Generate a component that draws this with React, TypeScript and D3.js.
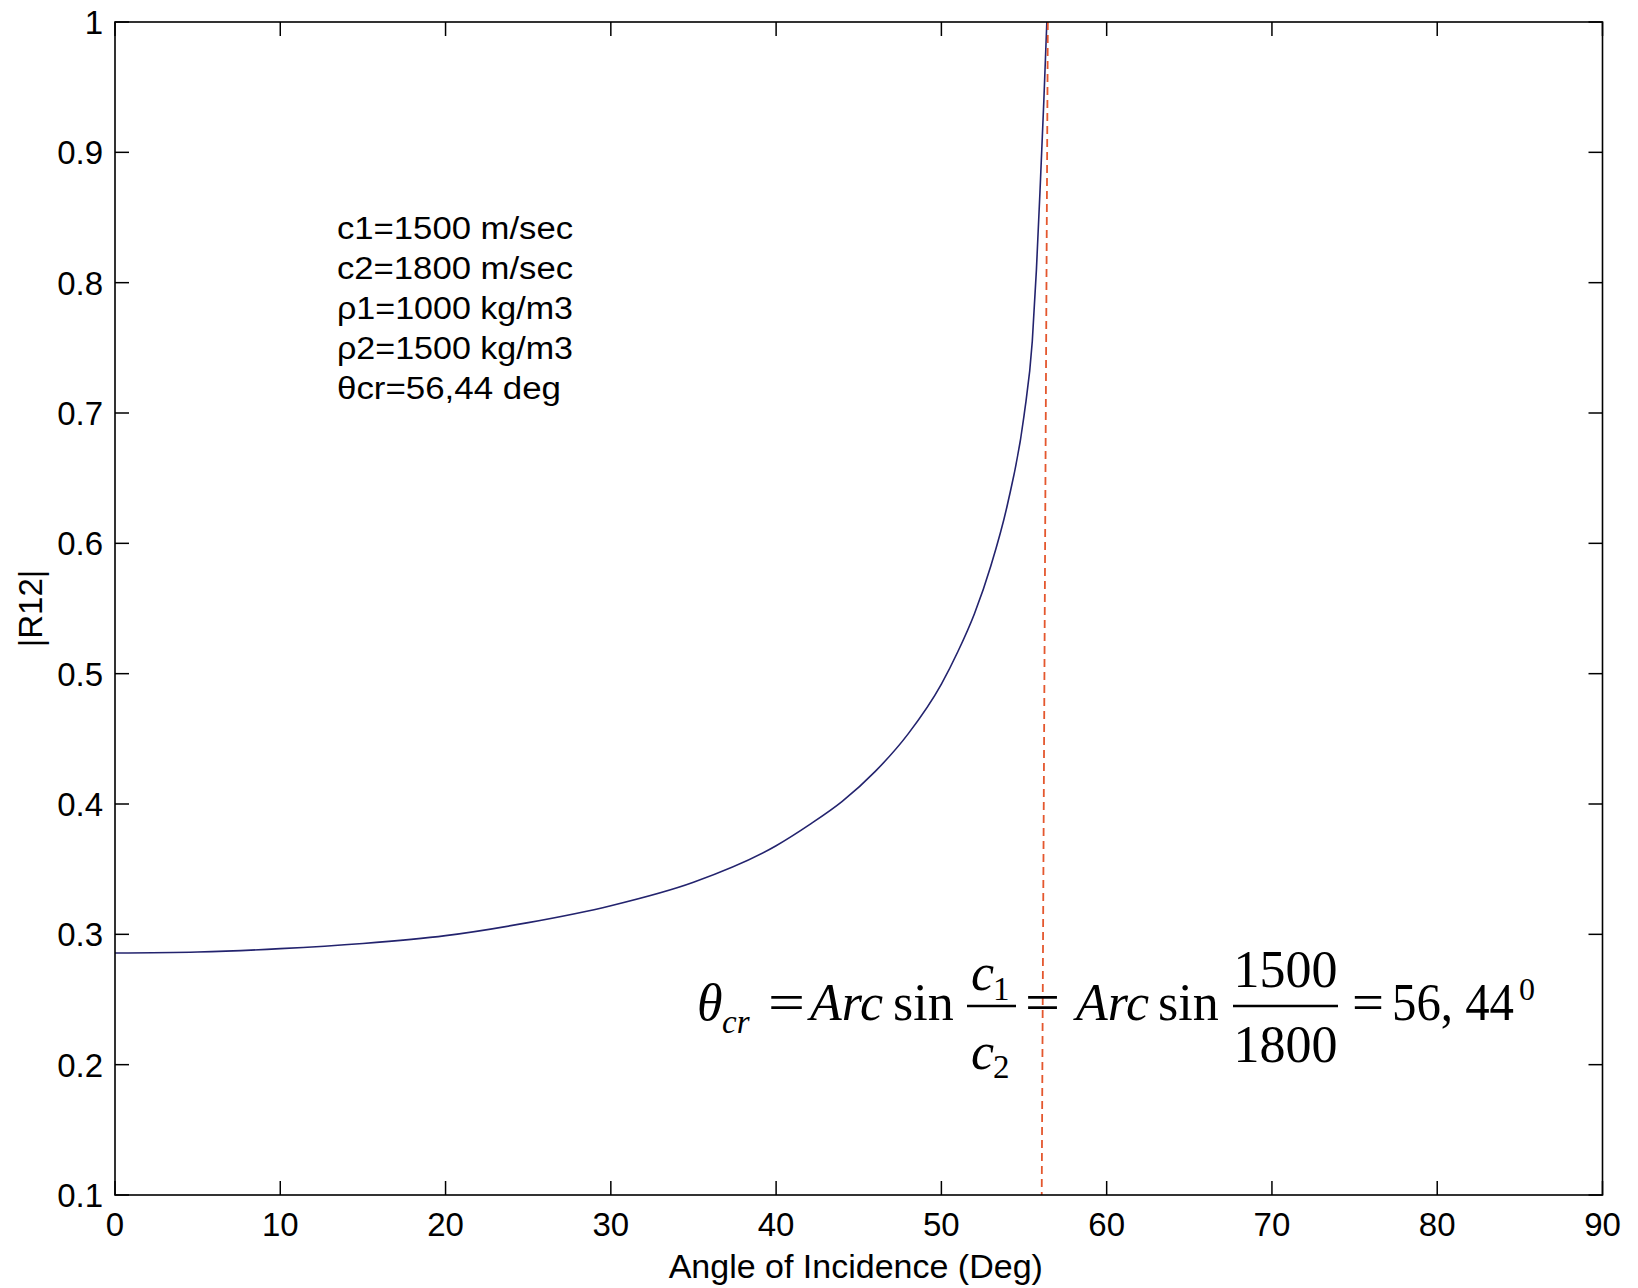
import React from "react";
import * as d3 from "d3";

// Angle of incidence (deg) and |R12|
const angles = [0, 5, 10, 15, 20, 25, 30, 35, 40, 42, 44, 46, 48, 50, 51, 52, 53, 54, 55, 55.5, 55.75, 56, 56.2, 56.38];
const r12 = [0.2857, 0.2865, 0.289, 0.293, 0.299, 0.309, 0.322, 0.340, 0.368, 0.384, 0.402, 0.425, 0.454, 0.492, 0.517, 0.546, 0.583, 0.630, 0.698, 0.755, 0.810, 0.880, 0.940, 1.0];

// critical-angle marker (dashed), top and bottom ends
const critX = [56.44, 56.07];
const critY = [1, 0.1];

const xTicks = [0, 10, 20, 30, 40, 50, 60, 70, 80, 90];
const yTicks = [0.1, 0.2, 0.3, 0.4, 0.5, 0.6, 0.7, 0.8, 0.9, 1];
const yTickLabels = ["0.1", "0.2", "0.3", "0.4", "0.5", "0.6", "0.7", "0.8", "0.9", "1"];

const notes = ["c1=1500 m/sec", "c2=1800 m/sec", "ρ1=1000 kg/m3", "ρ2=1500 kg/m3", "θcr=56,44 deg"];

const W = 1638;
const H = 1288;
const L = 115, R = 1602.5, T = 22, B = 1195;
const SANS = "'Liberation Sans', Arial, Helvetica, sans-serif";
const SERIF = "'Liberation Serif', 'Times New Roman', Times, serif";

export default function App() {
  const x = d3.scaleLinear().domain([0, 90]).range([L, R]);
  const y = d3.scaleLinear().domain([0.1, 1]).range([B, T]);
  const pts = angles.map((a, i) => [a, r12[i]] as [number, number]);
  const line = d3
    .line<[number, number]>()
    .x((d) => x(d[0]))
    .y((d) => y(d[1]))
    .curve(d3.curveMonotoneX);
  const tickLen = 14;
  const fs = 33;

  return (
    <svg
      width={W}
      height={H}
      style={{ position: "absolute", left: 0, top: 0, display: "block", background: "#fff" }}
    >
      <rect x={0} y={0} width={W} height={H} fill="#fff" />
      <defs>
        <clipPath id="plotclip">
          <rect x={L} y={T} width={R - L} height={B - T} />
        </clipPath>
      </defs>

      {/* curve */}
      <path d={line(pts) || ""} fill="none" stroke="#23236e" strokeWidth={1.6} clipPath="url(#plotclip)" />

      {/* critical angle dashed line */}
      <line
        x1={x(critX[0])}
        y1={y(critY[0])}
        x2={x(critX[1])}
        y2={y(critY[1])}
        stroke="#e4572e"
        strokeWidth={1.8}
        strokeDasharray="8,5"
      />

      {/* frame */}
      <rect x={L} y={T} width={R - L} height={B - T} fill="none" stroke="#000" strokeWidth={1.6} />

      {/* ticks */}
      {xTicks.map((t) => (
        <g key={"xt" + t}>
          <line x1={x(t)} x2={x(t)} y1={B} y2={B - tickLen} stroke="#000" strokeWidth={1.5} />
          <line x1={x(t)} x2={x(t)} y1={T} y2={T + tickLen} stroke="#000" strokeWidth={1.5} />
          <text x={x(t)} y={1236} fontFamily={SANS} fontSize={fs} textAnchor="middle" fill="#000">
            {t}
          </text>
        </g>
      ))}
      {yTicks.map((t, i) => (
        <g key={"yt" + t}>
          <line x1={L} x2={L + tickLen} y1={y(t)} y2={y(t)} stroke="#000" strokeWidth={1.5} />
          <line x1={R} x2={R - tickLen} y1={y(t)} y2={y(t)} stroke="#000" strokeWidth={1.5} />
          <text x={103} y={y(t) + 12} fontFamily={SANS} fontSize={fs} textAnchor="end" fill="#000">
            {yTickLabels[i]}
          </text>
        </g>
      ))}

      {/* axis labels */}
      <text x={(L + R) / 2 - 3} y={1278} fontFamily={SANS} fontSize={34} textAnchor="middle" fill="#000">
        Angle of Incidence (Deg)
      </text>
      <text
        transform={`translate(42, ${(T + B) / 2}) rotate(-90)`}
        fontFamily={SANS}
        fontSize={fs}
        textAnchor="middle"
        fill="#000"
      >
        |R12|
      </text>

      {/* parameter notes */}
      {notes.map((n, i) => (
        <text key={n} x={337} y={239 + i * 40} fontFamily={SANS} fontSize={31} fill="#000" textLength={i === 4 ? 224 : 236} lengthAdjust="spacingAndGlyphs">
          {n}
        </text>
      ))}

      {/* formula */}
      <g fontFamily={SERIF} fill="#000">
        <text x={697} y={1020} fontSize={52} fontStyle="italic">θ</text>
        <text x={722} y={1033} fontSize={33} fontStyle="italic">cr</text>
        <text x={768} y={1020} fontSize={52} textLength={37} lengthAdjust="spacingAndGlyphs">=</text>
        <text x={810} y={1020} fontSize={52} fontStyle="italic">Arc</text>
        <text x={893} y={1020} fontSize={52}>sin</text>
        <line x1={967} x2={1016} y1={1006} y2={1006} stroke="#000" strokeWidth={2.5} />
        <text x={971} y={990} fontSize={52} fontStyle="italic">c</text>
        <text x={993} y={1000} fontSize={33}>1</text>
        <text x={971} y={1069} fontSize={52} fontStyle="italic">c</text>
        <text x={993} y={1078} fontSize={33}>2</text>
        <text x={1025} y={1020} fontSize={52} textLength={35} lengthAdjust="spacingAndGlyphs">=</text>
        <text x={1076} y={1020} fontSize={52} fontStyle="italic">Arc</text>
        <text x={1158} y={1020} fontSize={52}>sin</text>
        <line x1={1233} x2={1338} y1={1006} y2={1006} stroke="#000" strokeWidth={2.5} />
        <text x={1285.5} y={987} fontSize={52} textAnchor="middle">1500</text>
        <text x={1285.5} y={1062} fontSize={52} textAnchor="middle">1800</text>
        <text x={1352} y={1020} fontSize={52} textLength={32} lengthAdjust="spacingAndGlyphs">=</text>
        <text x={1392} y={1020} fontSize={52} textLength={122} lengthAdjust="spacingAndGlyphs">56, 44</text>
        <text x={1519} y={1000} fontSize={32}>0</text>
      </g>
    </svg>
  );
}
